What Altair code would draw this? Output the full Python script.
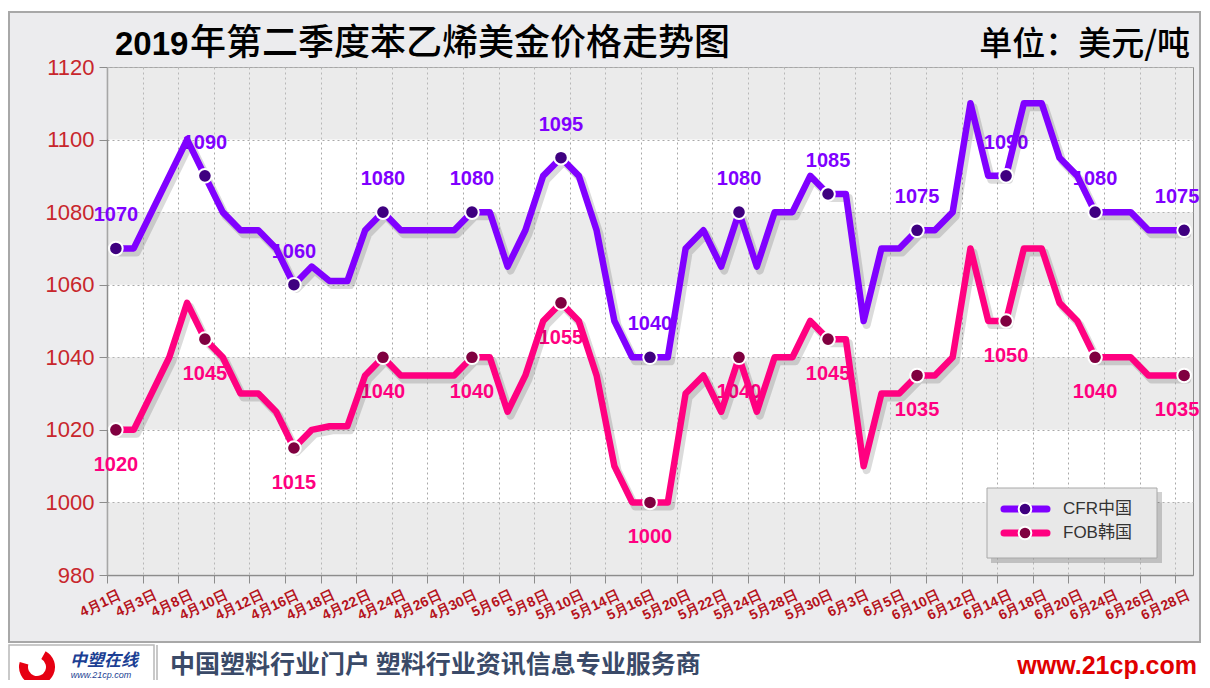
import altair as alt
import pandas as pd

# ---------------- data ----------------
tick_labels = ["4月1日", "4月3日", "4月8日", "4月10日", "4月12日", "4月16日", "4月18日",
               "4月22日", "4月24日", "4月26日", "4月30日",
               "5月6日", "5月8日", "5月10日", "5月14日", "5月16日", "5月20日", "5月22日",
               "5月24日", "5月28日", "5月30日",
               "6月3日", "6月5日", "6月10日", "6月12日", "6月14日", "6月18日", "6月20日",
               "6月24日", "6月26日", "6月28日"]

series_names = ["CFR中国", "FOB韩国"]

cfr_china = [1070, 1070, 1080, 1090, 1100, 1090, 1080, 1075, 1075, 1070,
             1060, 1065, 1061, 1061, 1075, 1080, 1075, 1075, 1075, 1075,
             1080, 1080, 1065, 1075, 1090, 1095, 1090, 1075, 1050, 1040,
             1040, 1040, 1070, 1075, 1065, 1080, 1065, 1080, 1080, 1090,
             1085, 1085, 1050, 1070, 1070, 1075, 1075, 1080, 1110, 1090,
             1090, 1110, 1110, 1095, 1090, 1080, 1080, 1080, 1075, 1075, 1075]

fob_korea = [1020, 1020, 1030, 1040, 1055, 1045, 1040, 1030, 1030, 1025,
             1015, 1020, 1021, 1021, 1035, 1040, 1035, 1035, 1035, 1035,
             1040, 1040, 1025, 1035, 1050, 1055, 1050, 1035, 1010, 1000,
             1000, 1000, 1030, 1035, 1025, 1040, 1025, 1040, 1040, 1050,
             1045, 1045, 1010, 1030, 1030, 1035, 1035, 1040, 1070, 1050,
             1050, 1070, 1070, 1055, 1050, 1040, 1040, 1040, 1035, 1035, 1035]

title_text = "2019年第二季度苯乙烯美金价格走势图"
unit_text = "单位：美元/吨"
footer_text = "中国塑料行业门户 塑料行业资讯信息专业服务商"
site_text = "www.21cp.com"
logo_text = "中塑在线"

# ---------------- styles ----------------
line_colors = ["#8000FF", "#FF0080"]
dot_colors = ["#3F0080", "#800040"]
W, H = 1086, 508
PAD_R = 9
n = len(cfr_china)

line_df = pd.DataFrame({
    "idx": list(range(n)) * 2,
    "value": cfr_china + fob_korea,
    "series": [series_names[0]] * n + [series_names[1]] * n,
})
pt_df = line_df[line_df["idx"] % 5 == 0].reset_index(drop=True)

band_df = pd.DataFrame({"lo": [980, 1020, 1060, 1100]})
band_df["hi"] = band_df["lo"] + 20
one = pd.DataFrame({"k": [0]})

label_arr = "[" + ",".join("'" + t + "'" for t in tick_labels) + "]"
step = W / n

xscale = alt.Scale(domain=[-0.5, n - 0.5], nice=False, zero=False)
yscale = alt.Scale(domain=[980, 1120], nice=False, zero=False)

xaxis = alt.Axis(values=[2 * k - 0.5 for k in range(len(tick_labels))],
                 labelExpr=label_arr + "[round((datum.value + 0.5) / 2)]",
                 labelOffset=step / 2 + 1, labelAngle=-25, labelAlign="right", labelBaseline="top",
                 labelPadding=5, labelFont="Liberation Sans", labelFontSize=14, labelFontWeight="bold",
                 labelColor="#B5121B", labelOverlap=False, labelFlush=False, labelBound=False,
                 grid=True, gridDash=[2, 3], gridColor="#A8A8A8", gridWidth=1,
                 tickColor="#8C8C8C", tickSize=8, domainColor="#8C8C8C", domainWidth=1.5, title=None)
yaxis = alt.Axis(values=list(range(980, 1121, 20)), format="d", grid=True, gridDash=[2, 3],
                 gridColor="#A8A8A8", tickColor="#8C8C8C", tickSize=8, domainColor="#8C8C8C",
                 domainWidth=1.5, labelColor="#C8262C", labelFont="Liberation Sans", labelFontSize=22,
                 labelPadding=5, title=None)

X = alt.X("idx:Q", scale=xscale, axis=xaxis)
Y = alt.Y("value:Q", scale=yscale, axis=yaxis)
color = alt.Color("series:N", scale=alt.Scale(domain=series_names, range=line_colors), legend=None)

bands = alt.Chart(band_df).mark_rect(fill="#CDCDCD", opacity=0.4).encode(
    x=alt.value(0), x2=alt.value(W),
    y=alt.Y("lo:Q", scale=yscale, axis=yaxis), y2="hi:Q")

shadow = alt.Chart(line_df).mark_line(color="#000000", opacity=0.14, strokeWidth=8, xOffset=3, yOffset=4,
                                      strokeJoin="round", strokeCap="round").encode(
    x=X, y=Y, detail="series:N")

lines = alt.Chart(line_df).mark_line(strokeWidth=6.5, strokeJoin="round", strokeCap="round").encode(
    x=X, y=Y, color=color)

dots = alt.Chart(pt_df).mark_circle(size=185, opacity=1, stroke="white", strokeWidth=2).encode(
    x=X, y=Y, fill=alt.Fill("series:N", scale=alt.Scale(domain=series_names, range=dot_colors), legend=None))


def value_labels(series, dy, last):
    sel = (alt.datum.series == series) & ((alt.datum.idx == n - 1) if last else (alt.datum.idx < n - 1))
    return alt.Chart(pt_df).transform_filter(sel).mark_text(
        dy=dy, dx=-7 if last else 0, font="Liberation Sans", fontSize=20, fontWeight="bold").encode(
        x=X, y=Y, text="value:Q", color=color)


labels = [value_labels(series_names[0], -33, False), value_labels(series_names[0], -33, True),
          value_labels(series_names[1], 35, False), value_labels(series_names[1], 35, True)]

# ---------------- frame / titles ----------------
top_strip = alt.Chart(one).mark_rect(fill="white").encode(
    x=alt.value(-99), x2=alt.value(W + PAD_R), y=alt.value(-59), y2=alt.value(-55))
right_strip = alt.Chart(one).mark_rect(fill="white").encode(
    x=alt.value(1094), x2=alt.value(W + PAD_R), y=alt.value(-59), y2=alt.value(H + 105))
footer_bg = alt.Chart(one).mark_rect(fill="white").encode(
    x=alt.value(-99), x2=alt.value(W + PAD_R), y=alt.value(575), y2=alt.value(H + 105))
panel_border = alt.Chart(one).mark_rect(fillOpacity=0, stroke="#A8A8A8", strokeWidth=2).encode(
    x=alt.value(-98), x2=alt.value(1093), y=alt.value(-55), y2=alt.value(575))
logo_box = alt.Chart(one).mark_rect(fillOpacity=0, stroke="#B8B8B8", strokeWidth=1.5).encode(
    x=alt.value(-98), x2=alt.value(47), y=alt.value(578), y2=alt.value(H + 110))
divider = alt.Chart(one).mark_rule(color="#C8C8C8", strokeWidth=2).encode(
    x=alt.value(50), y=alt.value(578), y2=alt.value(H + 105))
logo_arc = alt.Chart(one).mark_arc(theta=0.5, theta2=5.0, innerRadius=9, outerRadius=18, color="#E60012").encode(
    x=alt.value(-70), y=alt.value(600))
logo_txt = alt.Chart(one).mark_text(font="Noto Sans CJK SC", fontSize=17, fontWeight="bold", fontStyle="italic",
                                    color="#1C3F94", align="center", baseline="middle").encode(
    x=alt.value(-3), y=alt.value(594), text=alt.value(logo_text))
logo_url = alt.Chart(one).mark_text(font="Liberation Sans", fontSize=9, fontStyle="italic",
                                    color="#1C3F94", align="center", baseline="middle").encode(
    x=alt.value(-6), y=alt.value(608), text=alt.value("www.21cp.com"))
footer_main = alt.Chart(one).mark_text(font="Noto Sans CJK SC", fontSize=25, fontWeight="bold",
                                       color="#3A4A68", align="left", baseline="middle").encode(
    x=alt.value(63), y=alt.value(598), text=alt.value(footer_text))
footer_site = alt.Chart(one).mark_text(font="Liberation Sans", fontSize=25, fontWeight="bold",
                                       color="#E00000", align="right", baseline="middle").encode(
    x=alt.value(1090), y=alt.value(599), text=alt.value(site_text))

title_num = alt.Chart(one).mark_text(font="Liberation Sans", fontSize=33,
                                     fontWeight="bold", color="#000000", align="left",
                                     baseline="alphabetic").encode(
    x=alt.value(8), y=alt.value(-12), text=alt.value(title_text[:4]))
title_cn = alt.Chart(one).mark_text(font="Noto Sans CJK SC", fontSize=36, fontWeight=500, color="#000000",
                                    align="left", baseline="alphabetic").encode(
    x=alt.value(83), y=alt.value(-12), text=alt.value(title_text[4:]))
unit = alt.Chart(one).mark_text(font="Noto Sans CJK SC", fontSize=33, fontWeight=500, color="#000000",
                                align="right", baseline="alphabetic").encode(
    x=alt.value(1083), y=alt.value(-12), text=alt.value(unit_text))

# ---------------- legend ----------------
leg = [
    alt.Chart(one).mark_rect(fill="#000000", opacity=0.18).encode(
        x=alt.value(884), x2=alt.value(1055), y=alt.value(425), y2=alt.value(496)),
    alt.Chart(one).mark_rect(fill="#E8E8E8", stroke="#A8A8A8", strokeWidth=1).encode(
        x=alt.value(880), x2=alt.value(1050), y=alt.value(421), y2=alt.value(491)),
]
for i, name in enumerate(series_names):
    yy = 442 + 24 * i
    leg.append(alt.Chart(one).mark_rule(strokeWidth=7, strokeCap="round", color=line_colors[i]).encode(
        x=alt.value(897), x2=alt.value(940), y=alt.value(yy)))
    leg.append(alt.Chart(one).mark_circle(size=160, opacity=1, stroke="white", strokeWidth=2,
                                          color=dot_colors[i]).encode(x=alt.value(918), y=alt.value(yy)))
    leg.append(alt.Chart(one).mark_text(font="Liberation Sans, Noto Sans CJK SC", fontSize=17, color="#333333",
                                        align="left", baseline="middle").encode(
        x=alt.value(956), y=alt.value(yy), text=alt.value(name)))

chart = alt.layer(
    top_strip, right_strip, footer_bg, panel_border,
    bands, *labels, shadow, lines, dots,
    logo_box, divider, logo_arc, logo_txt, logo_url,
    footer_main, footer_site, title_num, title_cn, unit, *leg
).properties(
    width=W, height=H,
    autosize=alt.AutoSizeParams(type="none"),
    padding={"left": 99, "top": 59, "right": PAD_R, "bottom": 105},
    background="#ECECEE",
).configure_view(fill="white", stroke="#8C8C8C", strokeWidth=1)

chart.save("out.html", embed_options={"renderer": "svg", "actions": False})
